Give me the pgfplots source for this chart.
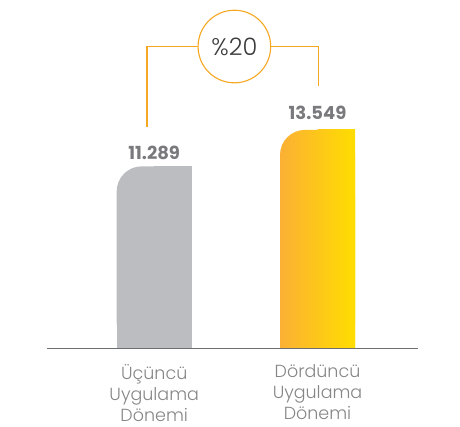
\documentclass[border=0pt]{standalone}
\usepackage{fontspec}
\usepackage{pgfplots}
\pgfplotsset{compat=1.18}
\newfontfamily\plight{Poppins Light}
\newfontfamily\pbold{Poppins Bold}
\definecolor{barg}{HTML}{BCBDC0}
\definecolor{ylo}{HTML}{FBB034}
\definecolor{yhi}{HTML}{FFDD00}
\definecolor{ymid}{HTML}{FDC71A}
\definecolor{brk}{HTML}{F7A823}
\definecolor{vallbl}{HTML}{7A7A7E}
\definecolor{catlbl}{HTML}{868686}
\definecolor{pctc}{HTML}{3C3C3C}
\definecolor{basec}{HTML}{6D6E71}
\begin{document}
\begin{tikzpicture}
\useasboundingbox (0,0) rectangle (460bp,427bp);
\begin{axis}[
  at={(47bp,78.7bp)}, anchor=south west,
  scale only axis, width=371bp, height=257.9bp,
  xmin=-0.6565, xmax=1.6154, ymin=0, ymax=16000,
  clip=false,
  axis x line=bottom, axis y line=none,
  x axis line style={draw=none},
  xtick={0,1}, major tick length=0pt, xtick style={draw=none},
  xticklabels={{Üçüncü\\Uygulama\\Dönemi},{Dördüncü\\Uygulama\\Dönemi}},
  xticklabel style={anchor=north, yshift=-16bp, inner sep=0pt, align=center,
    text=catlbl, font=\plight\fontsize{17.5bp}{21bp}\selectfont},
  nodes near coords style={anchor=south, inner sep=0pt, text=vallbl,
    font=\pbold\fontsize{18bp}{20bp}\selectfont},
]
% grey bar (Üçüncü)
\addplot[ybar, bar width=75bp, bar shift=0pt, fill=barg, draw=none, rounded corners=25bp,
  nodes near coords, point meta=explicit symbolic,
  every node near coord/.append style={yshift=6bp}] coordinates {(0,11289) [11.289]};
\addplot[ybar, bar width=75bp, bar shift=0pt, fill=barg, draw=none,
  y filter/.expression={0.7*y}] coordinates {(0,11289)};
\addplot[ybar, bar width=37.5bp, bar shift=18.75bp, fill=barg, draw=none] coordinates {(0,11289)};
% yellow bar (Dördüncü)
\addplot[ybar, bar width=75bp, bar shift=0pt, draw=none, left color=ylo, right color=yhi, rounded corners=25bp,
  nodes near coords, point meta=explicit symbolic,
  every node near coord/.append style={yshift=10bp}] coordinates {(1,13549) [13.549]};
\addplot[ybar, bar width=75bp, bar shift=0pt, draw=none, left color=ylo, right color=yhi,
  y filter/.expression={0.7*y}] coordinates {(1,13549)};
\addplot[ybar, bar width=37.5bp, bar shift=18.75bp, draw=none, left color=ymid, right color=yhi] coordinates {(1,13549)};
% baseline
\draw[basec, line width=1bp] (rel axis cs:0,0) -- (rel axis cs:1,0);
% bracket
\draw[brk, line width=1.1bp] (axis cs:-0.044,13728) |- (axis cs:1.005,18722) -- (axis cs:1.005,16272);
\node[circle, draw=brk, line width=1.1bp, fill=white, minimum size=72.6bp, inner sep=0pt,
  text=pctc, font=\plight\fontsize{24bp}{28bp}\selectfont] at (axis cs:0.491,18722) {\%20};
\end{axis}
\end{tikzpicture}
\end{document}
